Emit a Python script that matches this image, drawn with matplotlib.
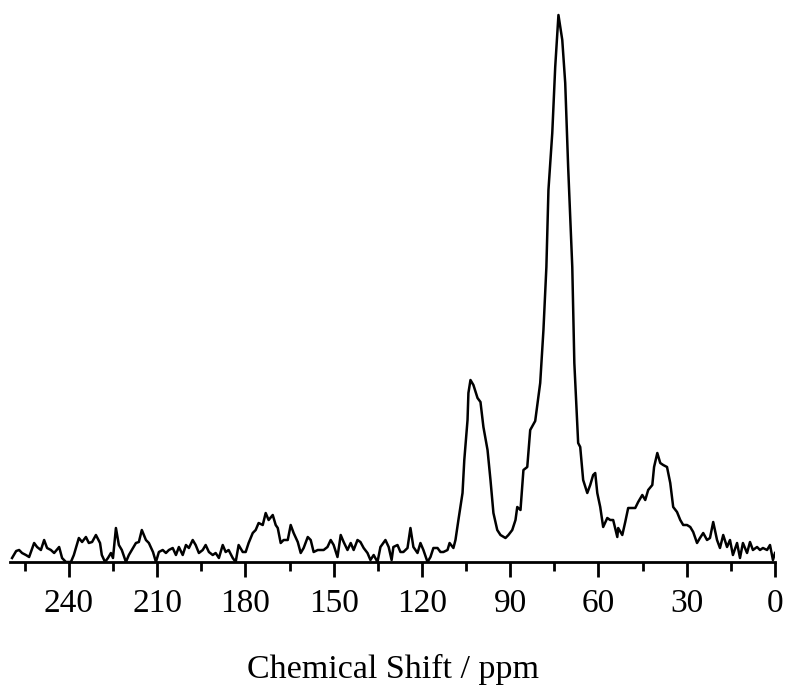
import numpy as np
import matplotlib.pyplot as plt
from matplotlib.ticker import MultipleLocator

# spectre : deplacement chimique (ppm) et intensite (u.a.)
ppm = [259.3, 257.9, 256.9, 255.9, 254.6, 253.5, 251.8, 250.8, 249.5, 248.4,
       247.4, 246.1, 245.0, 243.3, 242.3, 241.0, 239.3, 238.3, 236.6, 235.5,
       234.2, 233.2, 232.1, 230.8, 229.4, 228.8, 227.7, 226.7, 225.7, 225.0,
       224.0, 223.0, 222.0, 220.6, 219.6, 218.6, 217.2, 216.2, 215.2, 213.8,
       212.8, 211.4, 210.4, 209.4, 208.1, 207.0, 206.0, 204.7, 203.6, 202.6,
       201.3, 200.2, 199.2, 197.9, 196.9, 195.8, 194.5, 193.5, 192.4, 191.1,
       190.1, 189.0, 187.7, 186.7, 185.7, 184.3, 183.3, 182.3, 180.9, 179.9,
       178.9, 177.5, 176.5, 175.5, 174.1, 173.1, 172.1, 170.7, 169.7, 169.0,
       168.0, 167.0, 165.6, 164.6, 163.6, 162.2, 161.2, 160.2, 158.8, 157.8,
       156.8, 155.4, 154.4, 153.4, 152.1, 151.0, 150.0, 148.7, 147.6, 146.6,
       145.3, 144.2, 143.2, 141.9, 140.9, 139.8, 138.5, 137.5, 136.4, 135.1,
       134.1, 132.4, 131.3, 130.3, 129.7, 128.3, 127.3, 126.3, 124.9, 123.9,
       122.9, 121.5, 120.5, 119.5, 118.1, 117.1, 116.1, 114.7, 113.7, 112.7,
       111.3, 110.6, 109.3, 108.6, 107.6, 106.2, 105.6, 104.5, 104.2, 103.5,
       102.5, 101.1, 100.1, 99.1, 97.7, 96.7, 95.7, 94.4, 93.3, 91.6,
       90.6, 89.3, 88.2, 87.6, 86.5, 85.5, 84.2, 83.2, 81.5, 79.8,
       78.7, 77.7, 77.0, 75.7, 74.7, 73.6, 72.3, 71.3, 70.3, 68.9,
       68.2, 66.9, 66.2, 65.2, 63.8, 62.8, 61.8, 61.1, 60.4, 59.4,
       58.4, 57.0, 56.0, 55.0, 53.6, 53.3, 51.9, 50.9, 49.9, 48.5,
       47.5, 46.5, 45.1, 44.1, 43.1, 41.7, 41.1, 40.0, 39.0, 38.0,
       36.7, 35.6, 34.6, 33.3, 32.2, 31.2, 29.9, 28.8, 27.8, 26.5,
       25.5, 24.4, 23.1, 22.1, 21.0, 19.7, 18.7, 17.6, 16.3, 15.3,
       14.3, 12.9, 11.9, 10.9, 9.5, 8.5, 7.5, 6.1, 5.1, 4.1,
       2.7, 1.7, 0.7, 0.0]
intensite = [4, 11, 12, 9, 7, 5, 19, 15, 12, 22,
             14, 12, 9, 15, 4, 0, 0, 7, 24, 20,
             25, 19, 20, 27, 19, 7, 0, 4, 9, 4,
             34, 17, 12, 0, 7, 12, 19, 20, 32, 22,
             19, 10, 0, 10, 12, 9, 12, 14, 7, 15,
             7, 17, 14, 22, 17, 9, 12, 17, 10, 7,
             9, 4, 17, 10, 12, 4, 0, 17, 10, 10,
             19, 29, 32, 39, 37, 49, 42, 47, 37, 34,
             19, 22, 22, 37, 29, 20, 9, 14, 25, 22,
             10, 12, 12, 12, 15, 22, 17, 5, 27, 20,
             12, 19, 12, 22, 20, 14, 9, 2, 7, 0,
             15, 22, 15, 2, 15, 17, 10, 10, 14, 34,
             15, 9, 19, 12, 0, 5, 14, 14, 10, 10,
             12, 19, 14, 22, 42, 69, 102, 142, 169, 182,
             177, 164, 160, 135, 112, 82, 49, 32, 27, 24,
             27, 32, 42, 55, 52, 92, 95, 132, 141, 179,
             232, 295, 372, 429, 495, 547, 522, 479, 395, 295,
             199, 119, 115, 82, 69, 77, 87, 89, 69, 55,
             35, 44, 42, 42, 25, 34, 27, 40, 54, 54,
             54, 60, 67, 62, 72, 77, 95, 109, 99, 97,
             95, 79, 55, 50, 42, 37, 37, 35, 30, 19,
             24, 29, 22, 24, 40, 22, 14, 27, 15, 22,
             7, 19, 4, 19, 9, 20, 12, 15, 12, 14,
             12, 17, 2, 9]

ticks_majeurs = [240, 210, 180, 150, 120, 90, 60, 30, 0]

plt.rcParams['font.family'] = ['Liberation Serif', 'DejaVu Serif']

fig = plt.figure(figsize=(7.87, 6.91), dpi=100)
ax = fig.add_axes([10 / 787, 129 / 691, 765 / 787, 557 / 691])

ax.plot(ppm, intensite, color='black', linewidth=1.8)

ax.set_xlim(260, 0)
ax.set_ylim(0, 557)
ax.set_xticks(ticks_majeurs)
ax.xaxis.set_minor_locator(MultipleLocator(15))
ax.set_yticks([])

for cote in ['top', 'left', 'right']:
    ax.spines[cote].set_visible(False)
ax.spines['bottom'].set_linewidth(2)

ax.tick_params(axis='x', which='major', direction='out', length=11, width=2,
               labelsize=24, pad=8)
ax.tick_params(axis='x', which='minor', direction='out', length=6.5, width=2)

ax.set_xlabel('Chemical Shift / ppm', fontsize=24.5, labelpad=25)

fig.savefig('out.png', dpi=100)
